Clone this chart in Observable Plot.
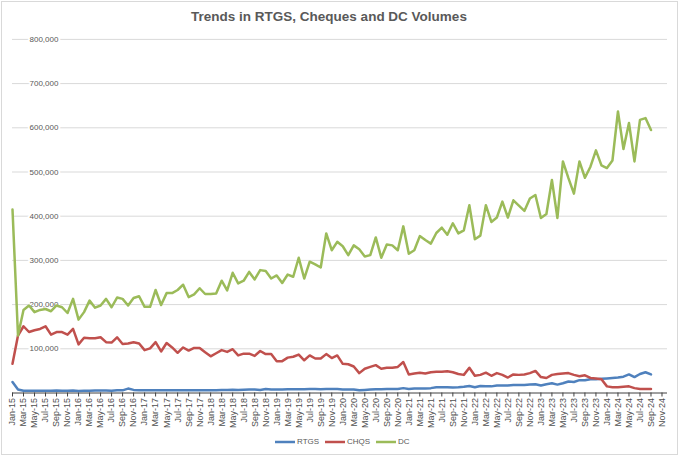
<!DOCTYPE html>
<html><head><meta charset="utf-8">
<script src="https://cdn.jsdelivr.net/npm/d3@7"></script>
<script src="https://cdn.jsdelivr.net/npm/@observablehq/plot@0.6"></script>
<style>
body{margin:0;background:#fff;}
#chart{position:relative;width:679px;height:456px;background:#fff;font-family:"Liberation Sans",Arial,sans-serif;overflow:hidden;}
#title{position:absolute;left:0;top:9px;width:658px;text-align:center;font-weight:bold;font-size:13.5px;color:#595959;line-height:16px;}
#frame{position:absolute;left:1px;top:1px;width:677px;height:454px;border:1px solid #d9d9d9;box-sizing:border-box;pointer-events:none;}
#plot{position:absolute;left:0;top:0;}
.leg{position:absolute;top:436px;font-size:8px;color:#595959;line-height:12px;display:flex;align-items:center;white-space:nowrap;}
.leg svg{margin-right:2px;}
</style></head>
<body>
<div id="chart"><div id="plot"></div><div id="title">Trends in RTGS, Cheques and DC Volumes</div><div id="frame"></div></div>
<script>
// Categories: monthly, Jan-15 .. Dec-24
const months = d3.utcMonths(new Date(Date.UTC(2015,0,1)), new Date(Date.UTC(2025,0,1))).map(d3.utcFormat("%b-%y"));
// Tick labels every second month
const tickLabels = months.filter((d, i) => i % 2 === 0);
const yTicks = [100000, 200000, 300000, 400000, 500000, 600000, 700000, 800000];

const seriesNames = ["RTGS", "CHQS", "DC"];
const seriesColors = ["#4f81bd", "#c0504d", "#9bbb59"];

const rtgs = [
  25000, 8000, 5000, 5000, 5000, 5000, 5000, 5000, 5500, 5000, 5000, 5500,
  4500, 5000, 5000, 5500, 5500, 5500, 5000, 6000, 6000, 10000, 7000, 6000,
  6000, 6000, 6500, 6000, 6500, 6500, 6500, 6500, 6500, 6500, 6500, 6000,
  6000, 6500, 7000, 7000, 7500, 7000, 7500, 8000, 8000, 7000, 9000, 8000,
  8000, 8000, 8500, 8500, 8500, 8500, 9000, 9000, 8500, 9000, 9000, 9000,
  8000, 8000, 8000, 6000, 7000, 8000, 8500, 8500, 9000, 9000, 9000, 11000,
  9000, 10000, 10000, 10000, 11000, 13000, 13000, 13000, 12500, 13000, 14000, 16000,
  13000, 16000, 15000, 15000, 17000, 17000, 17000, 18000, 18000, 18000, 19000, 20000,
  17000, 20000, 22000, 19000, 22000, 26000, 25000, 29000, 29000, 31000, 31000, 32000,
  33000, 34000, 35000, 37000, 42000, 36000, 43000, 47000, 42000
];
const chqs = [
  66000, 130000, 151000, 138000, 142000, 145000, 151000, 132000, 138000, 138000, 132000, 145000,
  110000, 125000, 124000, 124000, 126000, 115000, 114000, 126000, 111000, 112000, 115000, 112000,
  97000, 101000, 115000, 94000, 113000, 103000, 91000, 103000, 96000, 102000, 102000, 92000,
  83000, 90000, 97000, 93000, 99000, 85000, 89000, 89000, 84000, 95000, 88000, 88000,
  72000, 72000, 80000, 82000, 87000, 74000, 85000, 78000, 78000, 88000, 79000, 85000,
  66000, 65000, 60000, 45000, 55000, 59000, 63000, 55000, 57000, 57000, 59000, 70000,
  42000, 44000, 46000, 44000, 47000, 48000, 48000, 49000, 47000, 43000, 41000, 57000,
  39000, 41000, 46000, 39000, 45000, 41000, 35000, 42000, 41000, 42000, 45000, 50000,
  36000, 34000, 41000, 43000, 44000, 45000, 41000, 38000, 40000, 34000, 33000, 31000,
  15000, 13000, 13000, 14000, 15000, 11000, 9000, 9000, 9000
];
const dc = [
  415000, 130000, 188000, 198000, 183000, 188000, 190000, 185000, 198000, 194000, 181000, 213000,
  166000, 183000, 209000, 193000, 198000, 213000, 194000, 216000, 213000, 198000, 215000, 219000,
  195000, 195000, 233000, 199000, 226000, 226000, 233000, 245000, 217000, 223000, 237000, 224000,
  224000, 225000, 254000, 232000, 272000, 248000, 254000, 274000, 257000, 278000, 276000, 259000,
  266000, 249000, 268000, 263000, 306000, 259000, 297000, 291000, 284000, 361000, 323000, 342000,
  332000, 312000, 334000, 325000, 309000, 312000, 352000, 306000, 336000, 334000, 323000, 377000,
  315000, 323000, 355000, 346000, 338000, 362000, 374000, 358000, 384000, 361000, 368000, 425000,
  348000, 356000, 425000, 387000, 397000, 433000, 397000, 436000, 424000, 412000, 440000, 448000,
  396000, 405000, 482000, 396000, 524000, 486000, 451000, 524000, 487000, 512000, 549000, 515000,
  509000, 526000, 637000, 552000, 611000, 524000, 618000, 622000, 595000
];
const seriesValues = [rtgs, chqs, dc];

const lineMarks = seriesValues.map((vals, k) =>
  Plot.lineY(vals, {x: (d, i) => months[i], y: d => d, stroke: seriesColors[k], strokeWidth: 2.5, strokeLinejoin: "round"})
);

const chart = Plot.plot({
  width: 679,
  height: 456,
  marginTop: 38.9,
  marginBottom: 63.5,
  marginLeft: 12,
  marginRight: 12,
  style: {fontFamily: "'Liberation Sans', Arial, sans-serif", background: "transparent", overflow: "visible"},
  x: {type: "point", domain: months, padding: 0, axis: null},
  y: {domain: [0, 800000], axis: null},
  marks: [
    Plot.gridY(yTicks, {stroke: "#d9d9d9", strokeOpacity: 1, strokeWidth: 1}),
    Plot.text(yTicks, {y: d => d, text: d => d3.format(",")(d), frameAnchor: "left", dx: 17, textAnchor: "start",
      fill: "#595959", stroke: "white", strokeWidth: 4, fontSize: 8}),
    Plot.ruleY([0], {stroke: "#404040", strokeWidth: 1}),
    Plot.axisX({ticks: tickLabels, tickRotate: -90, tickSize: 4, tickPadding: 1, fontSize: 9,
      fill: "#505050", stroke: "#404040", label: null}),
    ...lineMarks
  ]
});
document.getElementById("plot").appendChild(chart);

// Legend
const legendLeft = [275, 325, 376];
const chartDiv = document.getElementById("chart");
seriesNames.forEach((name, k) => {
  const item = document.createElement("div");
  item.className = "leg";
  item.style.left = legendLeft[k] + "px";
  item.innerHTML = `<svg width="20" height="6"><line x1="0" x2="20" y1="3" y2="3" stroke="${seriesColors[k]}" stroke-width="2.5"/></svg><span>${name}</span>`;
  chartDiv.appendChild(item);
});
</script>
</body></html>
